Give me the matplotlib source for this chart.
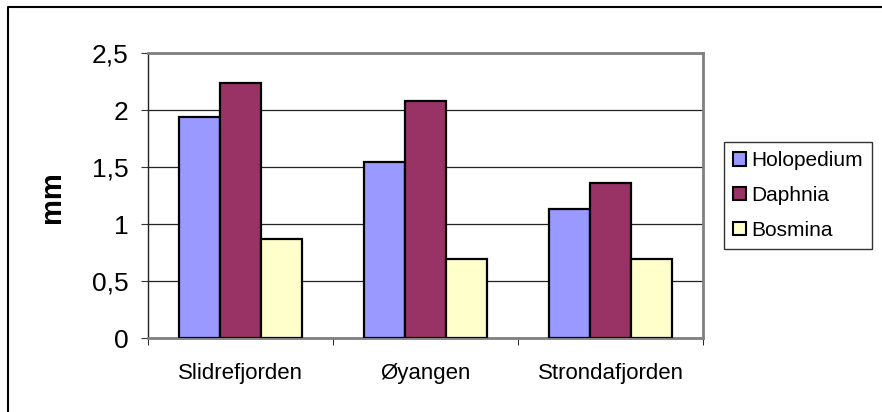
import numpy as np
import matplotlib
matplotlib.use("Agg")
import matplotlib.pyplot as plt
from matplotlib.lines import Line2D
from matplotlib.patches import Patch

# data
lakes = ["Slidrefjorden", "Øyangen", "Strondafjorden"]
holopedium = [1.94, 1.54, 1.13]
daphnia = [2.24, 2.08, 1.36]
bosmina = [0.87, 0.69, 0.69]
species = ["Holopedium", "Daphnia", "Bosmina"]
colors = ["#9999FF", "#993366", "#FFFFCC"]
y_ticks = [0, 0.5, 1, 1.5, 2, 2.5]

plt.rcParams["font.family"] = ["Liberation Sans", "DejaVu Sans"]

fig = plt.figure(figsize=(8.82, 4.12), dpi=100)
ax = fig.add_axes([148 / 882, 1 - 338 / 412, (703 - 148) / 882, (338 - 53) / 412])

x = np.arange(len(lakes))
w = 0.223
for i, (vals, c) in enumerate(zip([holopedium, daphnia, bosmina], colors)):
    ax.bar(x + (i - 1) * w, vals, w, color=c, edgecolor="black", linewidth=1.6,
           label=species[i], zorder=3)

ax.set_xlim(-0.5, 2.5)
ax.set_ylim(0, 2.5)
ax.set_yticks(y_ticks)
ax.set_yticklabels([f"{v:g}".replace(".", ",") for v in y_ticks], fontsize=19)
ax.set_xticks(x)
ax.set_xticklabels(lakes, fontsize=16)
ax.tick_params(axis="x", length=0, pad=18)
ax.set_xticks(np.arange(-0.5, 3, 1), minor=True)
ax.tick_params(axis="x", which="minor", length=5, direction="out", color="black")
ax.tick_params(axis="y", length=5, direction="out", pad=9, color="#333333")

ax.yaxis.grid(True, color="#222222", linewidth=0.9, zorder=0)
ax.set_axisbelow(True)
for side in ["top", "right", "bottom"]:
    ax.spines[side].set_color("#808080")
    ax.spines[side].set_linewidth(2)
ax.spines["left"].set_color("#222222")
ax.spines["left"].set_linewidth(1)

fig.text(52 / 882, 1 - 197 / 412, "mm", rotation=90, fontsize=21, fontweight="bold",
         ha="center", va="center")

handles = [Patch(facecolor=c, edgecolor="black", linewidth=1.5) for c in colors]
leg = fig.legend(handles, species, loc="upper left",
                 bbox_to_anchor=(724 / 882, 1 - 142 / 412), fontsize=15,
                 frameon=True, fancybox=False, edgecolor="black",
                 handlelength=0.6, handleheight=0.6, handletextpad=0.25,
                 labelspacing=0.75, borderpad=0.45, borderaxespad=0)
leg.get_frame().set_linewidth(1)

# outer chart border (left and top)
fig.add_artist(Line2D([8 / 882, 8 / 882, 1], [0, 1 - 7 / 412, 1 - 7 / 412],
                      transform=fig.transFigure, color="black", linewidth=1.5))

fig.savefig("out.png", dpi=100)
